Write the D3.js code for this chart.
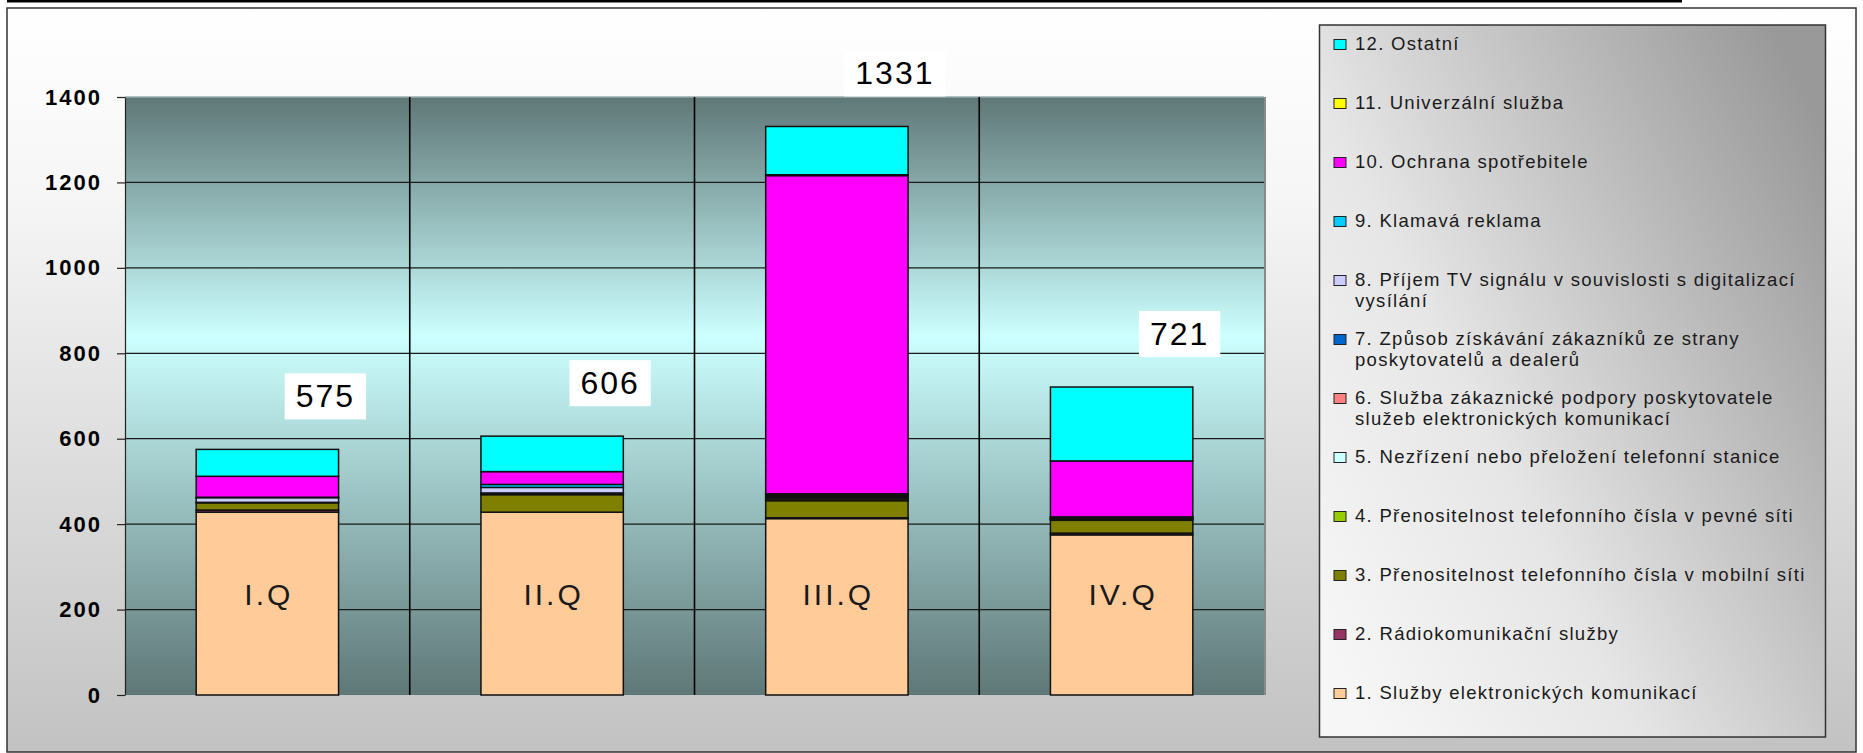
<!DOCTYPE html>
<html>
<head>
<meta charset="utf-8">
<script src="https://cdn.jsdelivr.net/npm/d3@7"></script>
<style>
  body { margin: 0; background: #fff; }
  text { font-family: "Liberation Sans", Arial, sans-serif; }
</style>
</head>
<body>
<div id="chart"></div>
<script>
// quarters and their totals
const categories = ['I.Q', 'II.Q', 'III.Q', 'IV.Q'];
const totals = [575, 606, 1331, 721];

// one array per complaint type, values per quarter (bottom of the stack first)
const sluzbyEK       = [428, 428, 413, 375];
const radiokom       = [5, 0, 2, 4];
const prenosMobil    = [17, 41, 40, 30];
const prenosPevna    = [0, 0, 4, 2];
const nezrizeni      = [0, 0, 2, 1];
const zakaznPodpora  = [0, 2, 3, 2];
const ziskavani      = [1, 2, 3, 2];
const tvSignal       = [11, 13, 3, 1];
const klamava        = [1, 7, 1, 0];
const ochrana        = [49, 30, 745, 131];
const univerzalni    = [0, 0, 2, 0];
const ostatni        = [63, 83, 113, 173];

const seriesNames = [
    '1. Služby elektronických komunikací',
    '2. Rádiokomunikační služby',
    '3. Přenositelnost telefonního čísla v mobilní síti',
    '4. Přenositelnost telefonního čísla v pevné síti',
    '5. Nezřízení nebo přeložení telefonní stanice',
    '6. Služba zákaznické podpory poskytovatele\nslužeb elektronických komunikací',
    '7. Způsob získávání zákazníků ze strany\nposkytovatelů a dealerů',
    '8. Příjem TV signálu v souvislosti s digitalizací\nvysílání',
    '9. Klamavá reklama',
    '10. Ochrana spotřebitele',
    '11. Univerzální služba',
    '12. Ostatní'
];
const seriesValues = [sluzbyEK, radiokom, prenosMobil, prenosPevna, nezrizeni, zakaznPodpora,
    ziskavani, tvSignal, klamava, ochrana, univerzalni, ostatni];
const yTicks = [0, 200, 400, 600, 800, 1000, 1200, 1400];

const colors = ['#ffcc99', '#993366', '#808000', '#99cc00', '#ccffff', '#ff8080',
    '#0066cc', '#ccccff', '#00ccff', '#ff00ff', '#ffff00', '#00ffff'];

const W = 1863, H = 753;
let margin = {top: 97, left: 125, right: 1264, bottom: 695};

let svg = d3.select('#chart').append('svg')
    .attr('width', W).attr('height', H);

let defs = svg.append('defs');
let bgGrad = defs.append('linearGradient').attr('id', 'bg')
    .attr('x1', 0).attr('y1', 0).attr('x2', 0).attr('y2', 1);
bgGrad.append('stop').attr('offset', 0).attr('stop-color', '#ffffff');
bgGrad.append('stop').attr('offset', 0.25).attr('stop-color', '#f6f6f6');
bgGrad.append('stop').attr('offset', 1).attr('stop-color', '#c2c2c2');

let plotGrad = defs.append('linearGradient').attr('id', 'plotbg')
    .attr('x1', 0).attr('y1', 0).attr('x2', 0).attr('y2', 1);
plotGrad.append('stop').attr('offset', 0).attr('stop-color', '#5f7777');
plotGrad.append('stop').attr('offset', 0.4).attr('stop-color', '#ccffff');
plotGrad.append('stop').attr('offset', 1).attr('stop-color', '#5f7777');

let legGrad = defs.append('linearGradient').attr('id', 'legbg')
    .attr('x1', 0).attr('y1', 0.85).attr('x2', 1).attr('y2', 0.15);
legGrad.append('stop').attr('offset', 0).attr('stop-color', '#f6f6f6');
legGrad.append('stop').attr('offset', 0.35).attr('stop-color', '#e6e6e6');
legGrad.append('stop').attr('offset', 1).attr('stop-color', '#999999');

// chart area
svg.append('rect').attr('x', 7).attr('y', 8).attr('width', 1849).attr('height', 744)
    .attr('fill', 'url(#bg)').attr('stroke', '#333').attr('stroke-width', 1.5);
// heavy rule at the very top
svg.append('rect').attr('x', 7).attr('y', 0).attr('width', 1675).attr('height', 2.5).attr('fill', '#000');

// scales
let x = d3.scaleBand().domain(categories)
    .range([margin.left, margin.right])
    .paddingInner(0.5).paddingOuter(0.25);
let y = d3.scaleLinear().domain([0, 1400]).range([margin.bottom, margin.top]);

// plot area
svg.append('rect')
    .attr('x', margin.left).attr('y', y(1400))
    .attr('width', margin.right - margin.left).attr('height', y(0) - y(1400))
    .attr('fill', 'url(#plotbg)');
svg.append('line')
    .attr('x1', margin.right + 1).attr('x2', margin.right + 1)
    .attr('y1', y(1400)).attr('y2', y(0))
    .attr('stroke', '#8a8a8a').attr('stroke-width', 2);

// gridlines
svg.append('g').selectAll('line').data(yTicks.slice(1)).enter().append('line')
    .attr('x1', margin.left).attr('x2', margin.right)
    .attr('y1', d => y(d)).attr('y2', d => y(d))
    .attr('stroke', d => d === 1400 ? '#9aa' : '#1a1a1a').attr('stroke-width', 1.3);

// category separators
svg.append('g').selectAll('line').data(categories.slice(1)).enter().append('line')
    .attr('x1', d => x(d) - x.step() * x.paddingOuter())
    .attr('x2', d => x(d) - x.step() * x.paddingOuter())
    .attr('y1', y(1400)).attr('y2', y(0))
    .attr('stroke', '#000').attr('stroke-width', 1.6);

// y axis
let yAxis = svg.append('g')
    .attr('transform', `translate(${margin.left},0)`)
    .call(d3.axisLeft(y).tickValues(yTicks).tickFormat(d3.format('d'))
        .tickSize(8).tickSizeOuter(0).tickPadding(15));
yAxis.select('.domain').attr('stroke', '#222').attr('stroke-width', 1.2);
yAxis.selectAll('.tick line').attr('stroke', '#222').attr('stroke-width', 1.2);
yAxis.selectAll('.tick text')
    .style('font-family', '"Liberation Sans", Arial, sans-serif')
    .style('font-size', '22px').style('font-weight', 'bold')
    .style('letter-spacing', '2px').attr('fill', '#000');

// stacked bars
let rows = categories.map((c, i) => {
    let r = {cat: c};
    seriesValues.forEach((s, k) => r['s' + k] = s[i]);
    return r;
});
let stack = d3.stack().keys(seriesValues.map((s, k) => 's' + k));
let layers = stack(rows);

svg.append('g').selectAll('g').data(layers).enter().append('g')
    .attr('fill', (d, k) => colors[k])
    .selectAll('rect')
    .data(d => d.filter(v => v[1] - v[0] > 0))
    .enter().append('rect')
    .attr('x', d => x(d.data.cat))
    .attr('y', d => y(d[1]))
    .attr('width', x.bandwidth())
    .attr('height', d => y(d[0]) - y(d[1]))
    .attr('stroke', '#111').attr('stroke-width', 1.5);

// quarter labels inside the bars
svg.append('g').selectAll('text').data(categories).enter().append('text')
    .attr('x', d => x(d) + x.bandwidth() / 2 + 1.5)
    .attr('y', y(210))
    .attr('text-anchor', 'middle')
    .style('font-size', '30px').style('letter-spacing', '3px')
    .attr('fill', '#1a1a1a')
    .text(d => d);

// totals in white boxes
let tot = svg.append('g').selectAll('g').data(categories).enter().append('g')
    .attr('transform', (d, i) => `translate(${x(d) + x.bandwidth() / 2 + 58},${y(totals[i]) - 53})`);
tot.append('rect').attr('fill', '#fff');
tot.append('text')
    .attr('text-anchor', 'middle').attr('y', 11)
    .style('font-size', '32px').style('letter-spacing', '2px')
    .attr('fill', '#000')
    .text((d, i) => totals[i]);
tot.each(function () {
    let g = d3.select(this);
    let w = g.select('text').node().getComputedTextLength() + 22;
    g.select('rect').attr('x', -w / 2).attr('y', -23).attr('width', w).attr('height', 46);
});

// legend
let legend = svg.append('g');
legend.append('rect').attr('x', 1319.5).attr('y', 25).attr('width', 506).attr('height', 712)
    .attr('fill', 'url(#legbg)').attr('stroke', '#333').attr('stroke-width', 1.5);

let legendOrder = d3.range(seriesNames.length).reverse();
let item = legend.selectAll('g.item').data(legendOrder).enter().append('g')
    .attr('class', 'item')
    .attr('transform', (k, i) => `translate(1334,${49.5 + i * 59})`);
item.append('rect')
    .attr('x', 0).attr('y', -10).attr('width', 12).attr('height', 10)
    .attr('fill', k => colors[k]).attr('stroke', '#222').attr('stroke-width', 1);
item.append('text')
    .attr('x', 21)
    .style('font-size', '18.5px').style('letter-spacing', '1.3px')
    .attr('fill', '#1a1a1a')
    .selectAll('tspan')
    .data(k => seriesNames[k].split('\n'))
    .enter().append('tspan')
    .attr('x', 21)
    .attr('dy', (d, j) => j === 0 ? 0 : 21.5)
    .text(d => d);
</script>
</body>
</html>
